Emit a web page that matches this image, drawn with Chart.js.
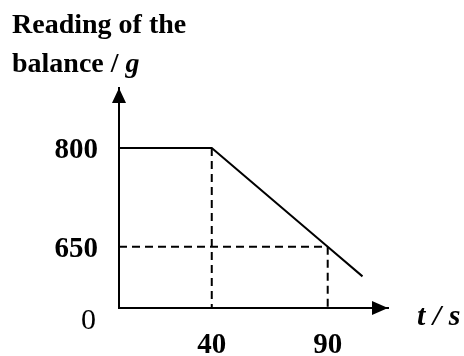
<!DOCTYPE html>
<html>
<head>
<meta charset="utf-8">
<script src="https://cdn.jsdelivr.net/npm/chart.js@4"></script>
<style>
  body { margin: 0; background: #fff; }
  #wrap { width: 464px; height: 356px; }
</style>
</head>
<body>
<div id="wrap"><canvas id="js--chart" width="464" height="356"></canvas></div>
<script>
// balance reading against time
const times = [0, 40, 90, 105];
const readings = [800, 800, 650, 605];
const xTickValues = [40, 90];
const yTickValues = [650, 800];
const originLabel = "0";

const serif = "'Liberation Serif', 'Times New Roman', serif";
const ink = "#000";

// arrowheads, dashed guides and the axis captions
const sketchBits = {
  id: "sketchBits",
  afterDatasetsDraw(chart) {
    const ctx = chart.ctx;
    const x = chart.scales.x;
    const y = chart.scales.y;
    const area = chart.chartArea;

    ctx.save();
    ctx.strokeStyle = ink;
    ctx.lineWidth = 2;
    ctx.setLineDash([8, 5]);
    ctx.beginPath();
    // drop from the end of the flat part
    ctx.moveTo(x.getPixelForValue(times[1]), y.getPixelForValue(readings[1]));
    ctx.lineTo(x.getPixelForValue(times[1]), area.bottom);
    // drop and read-across at t = 90
    ctx.moveTo(x.getPixelForValue(times[2]), y.getPixelForValue(readings[2]));
    ctx.lineTo(x.getPixelForValue(times[2]), area.bottom);
    ctx.moveTo(area.left, y.getPixelForValue(readings[2]));
    ctx.lineTo(x.getPixelForValue(times[2]), y.getPixelForValue(readings[2]));
    ctx.stroke();
    ctx.setLineDash([]);

    // arrowheads
    ctx.fillStyle = ink;
    ctx.beginPath();
    ctx.moveTo(area.left, area.top);
    ctx.lineTo(area.left - 7, area.top + 15);
    ctx.lineTo(area.left + 7, area.top + 15);
    ctx.closePath();
    ctx.fill();
    ctx.beginPath();
    ctx.moveTo(area.right, area.bottom);
    ctx.lineTo(area.right - 16, area.bottom - 7);
    ctx.lineTo(area.right - 16, area.bottom + 7);
    ctx.closePath();
    ctx.fill();

    // y caption, two lines above the axis
    ctx.textBaseline = "alphabetic";
    ctx.textAlign = "left";
    ctx.font = "bold 28px " + serif;
    ctx.fillText("Reading of the", 12, 33);
    const part = "balance / ";
    ctx.fillText(part, 12, 72);
    const w = ctx.measureText(part).width;
    ctx.font = "italic bold 28px " + serif;
    ctx.fillText("g", 12 + w, 72);

    // x caption
    ctx.font = "italic bold 30px " + serif;
    ctx.fillText("t / s", 417, 325);

    // origin
    ctx.font = "30px " + serif;
    ctx.textAlign = "right";
    ctx.textBaseline = "middle";
    ctx.fillText(originLabel, area.left - 23, area.bottom + 13);
    ctx.restore();
  }
};

const config = {
  type: "line",
  data: {
    datasets: [{
      data: times.map((t, i) => ({ x: t, y: readings[i] })),
      borderColor: ink,
      borderWidth: 2,
      pointRadius: 0,
      tension: 0,
      fill: false
    }]
  },
  options: {
    responsive: false,
    animation: false,
    events: [],
    layout: { padding: { left: 0, top: 88, right: 76, bottom: 0 } },
    plugins: { legend: { display: false }, tooltip: { enabled: false } },
    scales: {
      x: {
        type: "linear",
        min: 0,
        max: 116,
        grid: { display: false, drawTicks: false },
        border: { color: ink, width: 2 },
        afterBuildTicks: s => { s.ticks = xTickValues.map(v => ({ value: v })); },
        afterFit: s => { s.height = 48; },
        ticks: { color: ink, padding: 20, font: { family: serif, size: 29, weight: "bold" } }
      },
      y: {
        type: "linear",
        min: 557,
        max: 891,
        grid: { display: false, drawTicks: false },
        border: { color: ink, width: 2 },
        afterBuildTicks: s => { s.ticks = yTickValues.map(v => ({ value: v })); },
        afterFit: s => { s.width = 119; },
        ticks: { color: ink, padding: 21, labelOffset: 3, font: { family: serif, size: 29, weight: "bold" } }
      }
    }
  },
  plugins: [sketchBits]
};

const myChart = new Chart(document.getElementById("js--chart"), config);
</script>
</body>
</html>
